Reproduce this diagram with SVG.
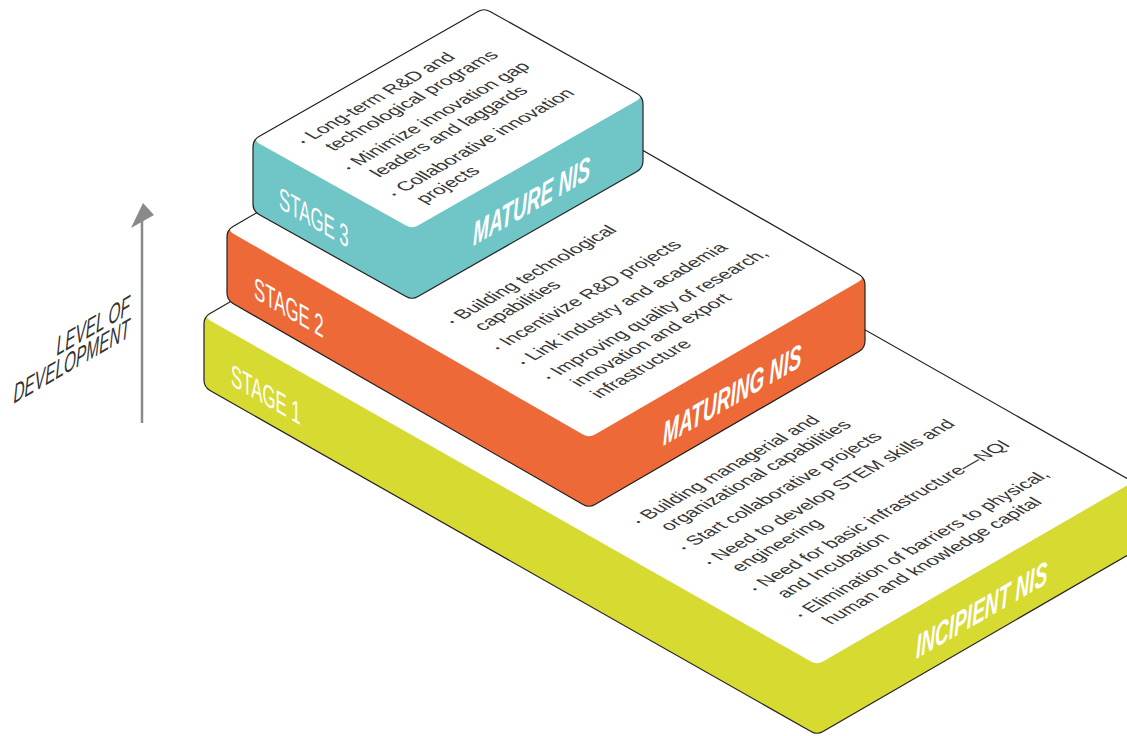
<svg xmlns="http://www.w3.org/2000/svg" xmlns:xlink="http://www.w3.org/1999/xlink" width="1127" height="736" viewBox="0 0 1127 736">
<style>
.edge{fill:none;stroke:#231f20;stroke-width:1.2;stroke-linejoin:round}
.top{fill:#ffffff}
.body{font-family:"Liberation Sans",Arial,sans-serif;font-size:18.5px;fill:#383838}
.bul{font-size:10px}
.stage{font-family:"Liberation Sans",Arial,sans-serif;font-size:31px;fill:#ffffff}
.nis{font-family:"Liberation Sans",Arial,sans-serif;font-size:33px;font-weight:bold;font-style:italic;fill:#ffffff}
.axis{font-family:"Liberation Sans",Arial,sans-serif;font-size:27px;font-style:italic;fill:#333333}
</style>
<defs>
<path id="sil1" d="M 204,324 Q 204,317 210,313.5 L 514,137.5 Q 520,134 526,137.5 L 1127,478.5 Q 1133,482 1133,489 L 1133,545 Q 1133,552 1127,555.5 L 823,731.5 Q 817,735 811,731.5 L 210,390.5 Q 204,387 204,380 Z"/>
<path id="sil2" d="M 227,237 Q 227,230 233,226.5 L 497,73.5 Q 503,70 509,73.5 L 859,274.5 Q 865,278 865,285 L 865,341 Q 865,348 859,351.5 L 595,504.5 Q 589,508 583,504.5 L 233,303.5 Q 227,300 227,293 Z"/>
<path id="sil3" d="M 253,147 Q 253,140 259,136.5 L 478,11.5 Q 484,8 490,11.5 L 637,93.5 Q 643,97 643,104 L 643,161 Q 643,168 637,171.5 L 418,296.5 Q 412,300 406,296.5 L 259,214.5 Q 253,211 253,204 Z"/>
</defs>

<g id="connectors">
<line x1="142" y1="423" x2="142" y2="220" stroke="#8a8a8a" stroke-width="2.5"/>
<polygon points="143,203 131,228 154,215" fill="#8a8a8a"/>
</g>

<g id="axis-label" class="axis" transform="matrix(0.5716,-0.33,0,1,130,313.5)" text-anchor="end">
<text x="0" y="0">LEVEL OF</text>
<text x="0" y="23">DEVELOPMENT</text>
</g>

<g id="stage1">
<use xlink:href="#sil1" fill="#D7DA31"/>
<path class="top" d="M 210,320.5 Q 204,317 210,313.5 L 514,137.5 Q 520,134 526,137.5 L 1127,478.5 Q 1133,482 1127,485.5 L 823,661.5 Q 817,665 811,661.5 Z"/>
<use xlink:href="#sil1" class="edge"/>
<text class="stage" transform="matrix(0.542,0.313,0,1,231,385)">STAGE 1</text>
<text class="nis" transform="matrix(0.578,-0.334,0,1,916,659)">INCIPIENT NIS</text>
<g class="body" transform="matrix(0.866,-0.5,0.866,0.5,649.3,520)">
<text class="bul" x="-10" y="-1">•</text>
<text x="0" y="0">Building managerial and</text>
<text x="0" y="23">organizational capabilities</text>
<text class="bul" x="-10" y="51.5">•</text>
<text x="0" y="52.5">Start collaborative projects</text>
<text class="bul" x="-10" y="81">•</text>
<text x="0" y="82">Need to develop STEM skills and</text>
<text x="0" y="105">engineering</text>
<text class="bul" x="-10" y="133.5">•</text>
<text x="0" y="134.5">Need for basic infrastructure—NQI</text>
<text x="0" y="157.5">and Incubation</text>
<text class="bul" x="-10" y="186">•</text>
<text x="0" y="187">Elimination of barriers to physical,</text>
<text x="0" y="210">human and knowledge capital</text>
</g>
</g>

<g id="stage2">
<use xlink:href="#sil2" fill="#ED6A38"/>
<path class="top" d="M 233,233.5 Q 227,230 233,226.5 L 497,73.5 Q 503,70 509,73.5 L 859,274.5 Q 865,278 859,281.5 L 595,434.5 Q 589,438 583,434.5 Z"/>
<use xlink:href="#sil2" class="edge"/>
<text class="stage" transform="matrix(0.542,0.313,0,1,254,298)">STAGE 2</text>
<text class="nis" transform="matrix(0.578,-0.334,0,1,663,446)">MATURING NIS</text>
<g class="body" transform="matrix(0.866,-0.5,0.866,0.5,463,320)">
<text class="bul" x="-10" y="-1">•</text>
<text x="0" y="0">Building technological</text>
<text x="0" y="23">capabilities</text>
<text class="bul" x="-10" y="51.5">•</text>
<text x="0" y="52.5">Incentivize R&amp;D projects</text>
<text class="bul" x="-10" y="81">•</text>
<text x="0" y="82">Link industry and academia</text>
<text class="bul" x="-10" y="110.5">•</text>
<text x="0" y="111.5">Improving quality of research,</text>
<text x="0" y="134.5">innovation and export</text>
<text x="0" y="157.5">infrastructure</text>
</g>
</g>

<g id="stage3">
<use xlink:href="#sil3" fill="#70C5C6"/>
<path class="top" d="M 259,143.5 Q 253,140 259,136.5 L 478,11.5 Q 484,8 490,11.5 L 637,93.5 Q 643,97 637,100.5 L 418,225.5 Q 412,229 406,225.5 Z"/>
<use xlink:href="#sil3" class="edge"/>
<text class="stage" transform="matrix(0.542,0.313,0,1,279,208)">STAGE 3</text>
<text class="nis" transform="matrix(0.578,-0.334,0,1,473,246)">MATURE NIS</text>
<g class="body" transform="matrix(0.866,-0.5,0.866,0.5,314,140)">
<text class="bul" x="-10" y="-1">•</text>
<text x="0" y="0">Long-term R&amp;D and</text>
<text x="0" y="23">technological programs</text>
<text class="bul" x="-10" y="51.5">•</text>
<text x="0" y="52.5">Minimize innovation gap</text>
<text x="0" y="75.5">leaders and laggards</text>
<text class="bul" x="-10" y="104">•</text>
<text x="0" y="105">Collaborative innovation</text>
<text x="0" y="128">projects</text>
</g>
</g>
</svg>
